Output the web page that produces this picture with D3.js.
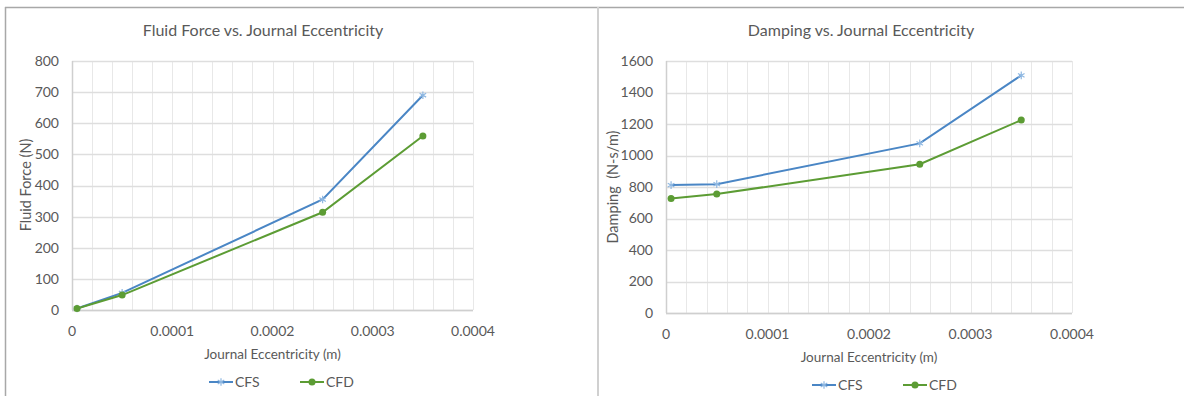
<!DOCTYPE html>
<html>
<head>
<meta charset="utf-8">
<script src="https://cdn.jsdelivr.net/npm/d3@7"></script>
<style>
  body { margin: 0; background: #fff; }
  svg text { font-family: Lato, "Open Sans", sans-serif; fill: #595959; }
</style>
</head>
<body>
<script>
// eccentricity values (m), shared by both charts
var eccentricity = [0.000005, 0.00005, 0.00025, 0.00035];
var xTicks = [0, 0.0001, 0.0002, 0.0003, 0.0004];

var forceCFS = [5, 55, 355, 690];
var forceCFD = [5, 48, 314, 559];
var forceTicks = [0, 100, 200, 300, 400, 500, 600, 700, 800];

var dampCFS = [812, 818, 1077, 1509];
var dampCFD = [727, 755, 945, 1225];
var dampTicks = [0, 200, 400, 600, 800, 1000, 1200, 1400, 1600];

var W = 1184, H = 396;
var blue = "#4a86c5", blueMark = "#8fb8e2", green = "#5c9c34";

var svg = d3.select("body").append("svg")
    .attr("width", W)
    .attr("height", H);

// outer chart frames
svg.append("line").attr("x1", 5).attr("x2", W).attr("y1", 7.5).attr("y2", 7.5)
    .attr("stroke", "#a8a8a8").attr("stroke-width", 1.5);
svg.append("line").attr("x1", 5.5).attr("x2", 5.5).attr("y1", 7).attr("y2", H)
    .attr("stroke", "#a8a8a8").attr("stroke-width", 1.5);
svg.append("line").attr("x1", 598).attr("x2", 598).attr("y1", 7).attr("y2", H)
    .attr("stroke", "#d0d0d0").attr("stroke-width", 2);

function drawChart(cfg) {
    var g = svg.append("g");

    var x = d3.scaleLinear().domain([0, 0.0004]).range([cfg.left, cfg.right]);
    var y = d3.scaleLinear().domain([0, cfg.ticks[cfg.ticks.length - 1]]).range([cfg.bottom, cfg.top]);

    // minor vertical gridlines every 0.00002
    var vgrid = d3.range(0, 21).map(function(i) { return i * 0.00002; });
    g.selectAll(".vg").data(vgrid).enter().append("line")
        .attr("x1", function(d) { return Math.round(x(d)) + 0.5; })
        .attr("x2", function(d) { return Math.round(x(d)) + 0.5; })
        .attr("y1", cfg.top).attr("y2", cfg.bottom)
        .attr("stroke", "#e8e8e8").attr("stroke-width", 1);

    g.selectAll(".hg").data(cfg.ticks).enter().append("line")
        .attr("x1", cfg.left).attr("x2", cfg.right)
        .attr("y1", function(d) { return Math.round(y(d)) + 0.5; })
        .attr("y2", function(d) { return Math.round(y(d)) + 0.5; })
        .attr("stroke", "#dedede").attr("stroke-width", 1.5);

    // axis lines
    g.append("line").attr("x1", cfg.left).attr("x2", cfg.right)
        .attr("y1", Math.round(cfg.bottom) + 0.5).attr("y2", Math.round(cfg.bottom) + 0.5)
        .attr("stroke", "#cfcfcf").attr("stroke-width", 1.5);
    g.append("line").attr("x1", Math.round(cfg.left) + 0.5).attr("x2", Math.round(cfg.left) + 0.5)
        .attr("y1", cfg.top).attr("y2", cfg.bottom)
        .attr("stroke", "#cfcfcf").attr("stroke-width", 1.5);

    // tick labels
    g.selectAll(".yt").data(cfg.ticks).enter().append("text")
        .attr("x", cfg.left - 13)
        .attr("y", function(d) { return y(d); })
        .attr("dy", "0.35em")
        .attr("text-anchor", "end")
        .style("font-size", "14px")
        .text(function(d) { return d; });

    g.selectAll(".xt").data(xTicks).enter().append("text")
        .attr("x", function(d) { return x(d); })
        .attr("y", cfg.bottom + 26)
        .attr("text-anchor", "middle")
        .style("font-size", "14px")
        .text(function(d) { return d === 0 ? "0" : d.toFixed(4); });

    // titles
    g.append("text")
        .attr("x", cfg.titleX).attr("y", 36)
        .attr("text-anchor", "middle")
        .style("font-size", "16px")
        .text(cfg.title);

    g.append("text")
        .attr("x", (cfg.left + cfg.right) / 2).attr("y", cfg.bottom + 49)
        .attr("text-anchor", "middle")
        .style("font-size", "13.5px")
        .text("Journal Eccentricity (m)");

    g.append("text")
        .attr("transform", "translate(" + cfg.yTitleX + "," + cfg.yTitleY + ") rotate(-90)")
        .attr("text-anchor", "middle")
        .style("font-size", "14.5px")
        .style("white-space", "pre")
        .attr("xml:space", "preserve")
        .text(cfg.yTitle);

    var line = d3.line()
        .x(function(d, i) { return x(eccentricity[i]); })
        .y(function(d) { return y(d); });

    g.append("path").datum(cfg.cfs)
        .attr("d", line).attr("fill", "none")
        .attr("stroke", blue).attr("stroke-width", 2);
    g.append("path").datum(cfg.cfd)
        .attr("d", line).attr("fill", "none")
        .attr("stroke", green).attr("stroke-width", 2);

    var star = d3.symbol().type(d3.symbolAsterisk).size(40);
    g.selectAll(".cfs").data(cfg.cfs).enter().append("path")
        .attr("d", star)
        .attr("transform", function(d, i) { return "translate(" + x(eccentricity[i]) + "," + y(d) + ")"; })
        .attr("fill", "none").attr("stroke", blueMark).attr("stroke-width", 1.2);

    g.selectAll(".cfd").data(cfg.cfd).enter().append("circle")
        .attr("cx", function(d, i) { return x(eccentricity[i]); })
        .attr("cy", function(d) { return y(d); })
        .attr("r", 3.5)
        .attr("fill", green);

    // legend
    var ly = cfg.bottom + 72;
    var lg = g.append("g");
    lg.append("line").attr("x1", cfg.legX).attr("x2", cfg.legX + 24)
        .attr("y1", ly).attr("y2", ly).attr("stroke", blue).attr("stroke-width", 2);
    lg.append("path").attr("d", star)
        .attr("transform", "translate(" + (cfg.legX + 12) + "," + ly + ")")
        .attr("fill", "none").attr("stroke", blueMark).attr("stroke-width", 1.2);
    lg.append("text").attr("x", cfg.legX + 26).attr("y", ly).attr("dy", "0.35em")
        .style("font-size", "14px").text("CFS");

    var l2 = cfg.legX + 91;
    lg.append("line").attr("x1", l2).attr("x2", l2 + 24)
        .attr("y1", ly).attr("y2", ly).attr("stroke", green).attr("stroke-width", 2);
    lg.append("circle").attr("cx", l2 + 12).attr("cy", ly).attr("r", 3.5).attr("fill", green);
    lg.append("text").attr("x", l2 + 26).attr("y", ly).attr("dy", "0.35em")
        .style("font-size", "14px").text("CFD");
}

drawChart({
    title: "Fluid Force vs. Journal Eccentricity",
    titleX: 263,
    yTitle: "Fluid Force (N)",
    yTitleX: 31, yTitleY: 185,
    left: 72, right: 473, top: 61, bottom: 310,
    ticks: forceTicks,
    cfs: forceCFS, cfd: forceCFD,
    legX: 209
});

drawChart({
    title: "Damping vs. Journal Eccentricity",
    titleX: 861,
    yTitle: "Damping  (N-s/m)",
    yTitleX: 618, yTitleY: 187,
    left: 666, right: 1072, top: 61, bottom: 313,
    ticks: dampTicks,
    cfs: dampCFS, cfd: dampCFD,
    legX: 812
});
</script>
</body>
</html>
